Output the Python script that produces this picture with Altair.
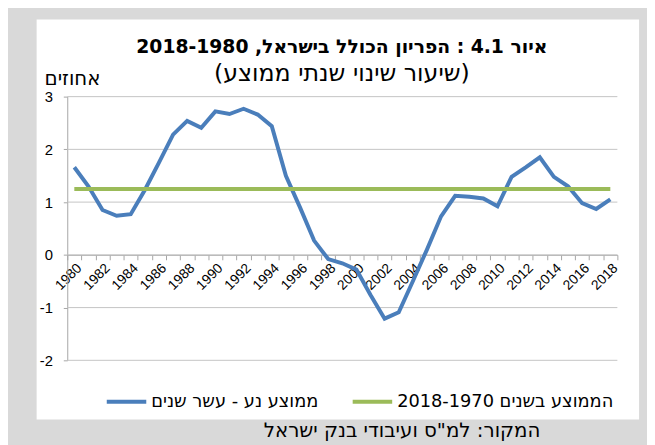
import altair as alt
import pandas as pd

# ---------------- data ----------------
years = [1980, 1981, 1982, 1983, 1984, 1985, 1986, 1987, 1988, 1989,
         1990, 1991, 1992, 1993, 1994, 1995, 1996, 1997, 1998, 1999,
         2000, 2001, 2002, 2003, 2004, 2005, 2006, 2007, 2008, 2009,
         2010, 2011, 2012, 2013, 2014, 2015, 2016, 2017, 2018]
ma_values = [1.66, 1.30, 0.85, 0.74, 0.77, 1.23, 1.75, 2.28, 2.54, 2.41,
             2.72, 2.67, 2.77, 2.66, 2.44, 1.50, 0.90, 0.27, -0.08, -0.16,
             -0.28, -0.76, -1.21, -1.09, -0.50, 0.10, 0.73, 1.12, 1.10, 1.07,
             0.92, 1.48, 1.66, 1.85, 1.48, 1.30, 0.98, 0.87, 1.05]
avg_years = [1980, 2018]
avg_values = [1.25, 1.25]
y_ticks = [-2, -1, 0, 1, 2, 3]

label_ma = "ממוצע נע - עשר שנים"
label_avg = "הממוצע בשנים 2018-1970"
title_text = "איור 4.1 : הפריון הכולל בישראל, 2018-1980"
subtitle_text = "(שיעור שינוי שנתי ממוצע)"
unit_text = "אחוזים"
source_text = "המקור:  למ\"ס ועיבודי בנק ישראל"

# ---------------- style / layout ----------------
FONT_HE = "DejaVu Sans, Liberation Sans, sans-serif"
FONT_NUM = "Liberation Sans, DejaVu Sans, sans-serif"
BLUE = "#4A7EBB"
GREEN = "#9BBB59"
GRAY_BG = "#d9d9d9"
GRID = "#c4c4c4"
AXIS = "#a6a6a6"

# the view is the white chart panel; the plot sits inside it
PW, PH = 610, 405            # white panel size
PL, PR = 31, 588             # plot left / right inside the panel
PT, PB = 78, 345             # plot top / bottom inside the panel
Y0 = PB - (PB - PT) * 2 / 5  # pixel row of value 0 (domain -2..3)
RLE, PDF = "\u202b", "\u202c"


def rtl(s):
    return RLE + s + PDF


df_ma = pd.DataFrame({"year": years, "value": ma_values, "series": label_ma})
df_avg = pd.DataFrame({"year": avg_years, "value": avg_values, "series": label_avg})
df_grid = pd.DataFrame({"tick": y_ticks})

x_scale = alt.Scale(type="band", domain=years, paddingInner=0, paddingOuter=0, range=[PL, PR])
y_scale = alt.Scale(domain=[-2, 3], nice=False, zero=False, range=[PB, PT])

x_enc = alt.X(
    "year:O",
    bandPosition=0.5,
    scale=x_scale,
    axis=alt.Axis(
        title=None,
        labelAngle=-45,
        labelAlign="right",
        labelBaseline="top",
        labelExpr="datum.value % 2 == 0 ? datum.label : ''",
        labelFontSize=14,
        labelFont=FONT_NUM,
        labelColor="#000000",
        labelPadding=1,
        labelOverlap=False,
        labelFlush=False,
        tickBand="extent",
        tickSize=5,
        tickColor=AXIS,
        domainColor=AXIS,
        grid=False,
        offset=-(PH - Y0),
    ),
)
y_enc = alt.Y(
    "value:Q",
    scale=y_scale,
    axis=alt.Axis(
        title=None,
        values=y_ticks,
        labelExpr="'' + datum.value",
        grid=False,
        domainColor=AXIS,
        tickColor=AXIS,
        tickSize=4,
        labelFontSize=15,
        labelFont=FONT_NUM,
        labelColor="#000000",
        labelPadding=11,
        offset=-PL,
    ),
)
color_enc = alt.Color(
    "series:N",
    scale=alt.Scale(domain=[label_ma, label_avg], range=[BLUE, GREEN]),
    legend=alt.Legend(
        title=None,
        orient="none",
        legendX=69,
        legendY=365,
        direction="horizontal",
        symbolType="stroke",
        symbolSize=1600,
        symbolStrokeWidth=4,
        labelFontSize=18,
        labelFont=FONT_HE,
        labelColor="#000000",
        labelLimit=400,
        labelOffset=3,
        columnPadding=26,
        padding=0,
        labelExpr="'\u202b' + datum.label + '\u202c'",
    ),
)

# horizontal gridlines through the y scale, spanning the plot width
grid = alt.Chart(df_grid).mark_rule(color=GRID, strokeWidth=1).encode(
    y=alt.Y("tick:Q", scale=y_scale), x=alt.value(PL), x2=alt.value(PR)
)

ma_line = alt.Chart(df_ma).mark_line(strokeWidth=4).encode(x=x_enc, y=y_enc, color=color_enc)
avg_line = alt.Chart(df_avg).mark_line(strokeWidth=4).encode(x=x_enc, y=y_enc, color=color_enc)


def text_layer(s, x, y, size, weight="normal", align="center"):
    return alt.Chart(pd.DataFrame({"t": [rtl(s)]})).mark_text(
        align=align, baseline="alphabetic", fontSize=size, fontWeight=weight,
        font=FONT_HE, color="#000000"
    ).encode(text="t:N", x=alt.value(x), y=alt.value(y))


texts = [
    text_layer(title_text, 309, 34, 19, "bold"),
    text_layer(subtitle_text, 309, 62, 24),
    text_layer(unit_text, 8, 66, 20, align="left"),
    text_layer(source_text, 370, 423, 20),
]

chart = alt.layer(grid, ma_line, avg_line, *texts).properties(
    width=PW,
    height=PH,
    background=GRAY_BG,
    autosize=alt.AutoSizeParams(type="none"),
    padding={"left": 29, "top": 9, "right": 8, "bottom": 23},
).configure_view(fill="white", strokeWidth=0)

chart.save("out.html", embed_options={"renderer": "svg", "actions": False})
